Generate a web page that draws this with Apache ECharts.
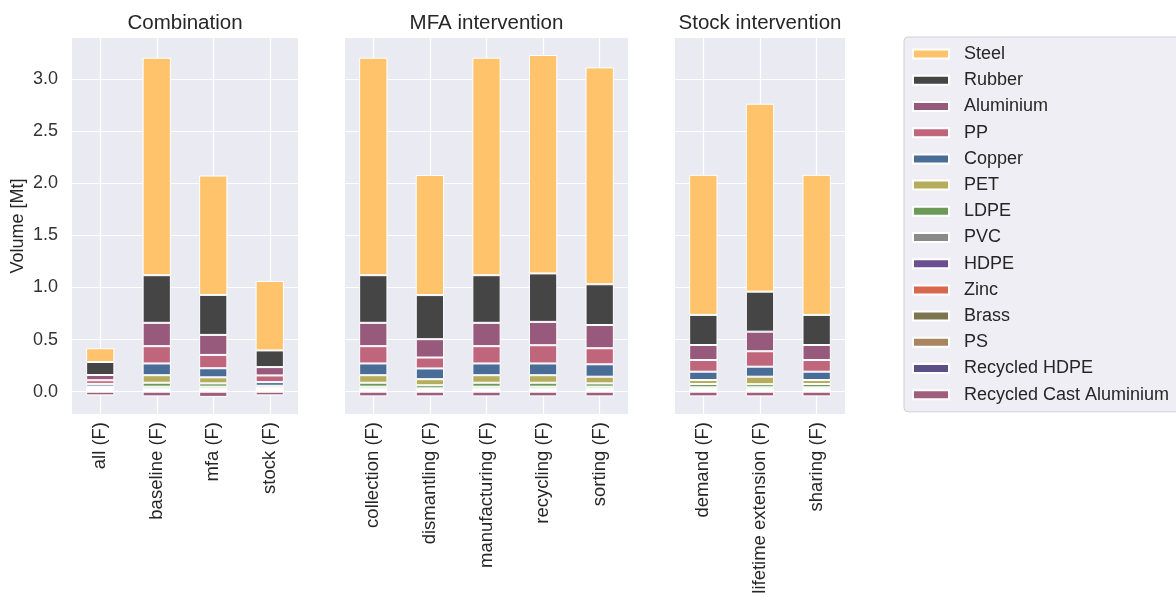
<!DOCTYPE html>
<html>
<head>
<meta charset="utf-8">
<script src="https://cdn.jsdelivr.net/npm/echarts@6/dist/echarts.min.js"></script>
<style>
  html, body { margin: 0; padding: 0; background: #ffffff; }
  #chart { width: 1176px; height: 598px; }
</style>
</head>
<body>
<div id="chart"></div>
<script>
// Scenario groups (one panel each)
const combinationCats = ['all (F)', 'baseline (F)', 'mfa (F)', 'stock (F)'];
const mfaCats = ['collection (F)', 'dismantling (F)', 'manufacturing (F)', 'recycling (F)', 'sorting (F)'];
const stockCats = ['demand (F)', 'lifetime extension (F)', 'sharing (F)'];

// Material volumes [Mt], in scenario order:
// all, baseline, mfa, stock | collection, dismantling, manufacturing, recycling, sorting | demand, lifetime extension, sharing
const steel      = [0.132, 2.087, 1.145, 0.666, 2.087, 1.152, 2.087, 2.096, 2.081, 1.344, 1.803, 1.344];
const rubber     = [0.125, 0.457, 0.384, 0.160, 0.457, 0.423, 0.457, 0.465, 0.391, 0.289, 0.384, 0.289];
const aluminium  = [0.050, 0.224, 0.192, 0.080, 0.224, 0.176, 0.224, 0.224, 0.223, 0.144, 0.188, 0.144];
const pp         = [0.035, 0.166, 0.128, 0.064, 0.166, 0.105, 0.166, 0.175, 0.154, 0.112, 0.148, 0.112];
const copper     = [0.025, 0.113, 0.087, 0.035, 0.113, 0.103, 0.113, 0.113, 0.119, 0.080, 0.096, 0.080];
const pet        = [0.015, 0.072, 0.058, 0.020, 0.072, 0.058, 0.072, 0.072, 0.064, 0.038, 0.072, 0.038];
const ldpe       = [0.010, 0.038, 0.032, 0.012, 0.038, 0.030, 0.038, 0.038, 0.032, 0.032, 0.030, 0.032];
const pvc        = [0.008, 0.018, 0.018, 0.008, 0.018, 0.012, 0.018, 0.018, 0.018, 0.015, 0.015, 0.015];
const hdpe       = [0.005, 0.010, 0.010, 0.005, 0.010, 0.007, 0.010, 0.010, 0.010, 0.009, 0.009, 0.009];
const zinc       = [0.004, 0.006, 0.006, 0.004, 0.006, 0.004, 0.006, 0.006, 0.006, 0.005, 0.005, 0.005];
const brass      = [0.003, 0.005, 0.005, 0.003, 0.005, 0.003, 0.005, 0.005, 0.005, 0.005, 0.005, 0.005];
const ps         = [0.003, 0.004, 0.004, 0.003, 0.004, 0.003, 0.004, 0.004, 0.004, 0.004, 0.004, 0.004];
const recHdpe    = [0.002, 0.005, 0.005, 0.002, 0.005, 0.003, 0.005, 0.005, 0.005, 0.004, 0.004, 0.004];
const recCastAl  = [-0.035, -0.045, -0.050, -0.035, -0.045, -0.045, -0.045, -0.045, -0.045, -0.045, -0.045, -0.045];

// Y tick values
const yTicks = [0, 0.5, 1.0, 1.5, 2.0, 2.5, 3.0];

// Materials, top of the stack first (legend order)
const materials = [
  { name: 'Steel', color: '#ffc36b', values: steel },
  { name: 'Rubber', color: '#454545', values: rubber },
  { name: 'Aluminium', color: '#985a7c', values: aluminium },
  { name: 'PP', color: '#c0667c', values: pp },
  { name: 'Copper', color: '#4a6d98', values: copper },
  { name: 'PET', color: '#b5ad5c', values: pet },
  { name: 'LDPE', color: '#6c9b58', values: ldpe },
  { name: 'PVC', color: '#8a8a8a', values: pvc },
  { name: 'HDPE', color: '#6b4f90', values: hdpe },
  { name: 'Zinc', color: '#d9674d', values: zinc },
  { name: 'Brass', color: '#7d7450', values: brass },
  { name: 'PS', color: '#a6855f', values: ps },
  { name: 'Recycled HDPE', color: '#5c4f87', values: recHdpe },
  { name: 'Recycled Cast Aluminium', color: '#a05e7e', values: recCastAl }
];

const panels = [
  { title: 'Combination', cats: combinationCats, left: 72, width: 226 },
  { title: 'MFA intervention', cats: mfaCats, left: 345, width: 283 },
  { title: 'Stock intervention', cats: stockCats, left: 675, width: 170 }
];

const FONT = '"Liberation Sans", Arial, sans-serif';
const TOP = 38, HEIGHT = 376;
const Y_MIN = -0.214, Y_MAX = 3.394;

const grids = [], xAxes = [], yAxes = [], titles = [], series = [];
let offset = 0;
panels.forEach((p, i) => {
  grids.push({ left: p.left, width: p.width, top: TOP, height: HEIGHT,
    show: true, backgroundColor: '#eaeaf2', borderWidth: 0, containLabel: false });
  // title box has 5px padding, so shift the anchor to keep the text centred on the panel
  titles.push({ text: p.title, left: p.left + p.width / 2 - 5, top: 8, textAlign: 'center',
    textStyle: { fontFamily: FONT, fontSize: 20.5, fontWeight: 'normal', color: '#262626' } });
  xAxes.push({
    type: 'category', gridIndex: i, data: p.cats,
    axisLine: { show: false }, axisTick: { show: false },
    axisLabel: { rotate: 90, margin: 8, interval: 0, fontFamily: FONT, fontSize: 18.5, color: '#262626' },
    splitLine: { show: true, interval: 0, alignWithLabel: true, lineStyle: { color: '#ffffff', width: 1.2 } }
  });
  yAxes.push({
    type: 'value', gridIndex: i, min: Y_MIN, max: Y_MAX,
    name: i === 0 ? 'Volume [Mt]' : '', nameLocation: 'middle', nameGap: 45,
    nameTextStyle: { fontFamily: FONT, fontSize: 18, color: '#262626' },
    axisLine: { show: false },
    axisTick: { show: false, customValues: yTicks },
    axisLabel: { show: i === 0, customValues: yTicks, margin: 14,
      formatter: v => v.toFixed(1), fontFamily: FONT, fontSize: 18, color: '#333333' },
    splitLine: { show: true, lineStyle: { color: '#ffffff', width: 1.2 } }
  });
  const n = p.cats.length;
  // bottom of the stack first
  for (let k = materials.length - 1; k >= 0; k--) {
    const m = materials[k];
    series.push({
      type: 'bar', name: m.name, xAxisIndex: i, yAxisIndex: i, stack: 'panel' + i,
      barWidth: '50%', data: m.values.slice(offset, offset + n),
      itemStyle: { color: m.color, borderColor: '#ffffff', borderWidth: 1 },
      emphasis: { disabled: true }
    });
  }
  offset += n;
});

const chart = echarts.init(document.getElementById('chart'), null, { renderer: 'canvas' });
chart.setOption({
  animation: false,
  backgroundColor: '#ffffff',
  title: titles,
  grid: grids,
  xAxis: xAxes,
  yAxis: yAxes,
  legend: {
    data: materials.map(m => m.name),
    orient: 'vertical', left: 904, top: 37,
    padding: [8, 20, 8, 8],
    itemWidth: 36, itemHeight: 9, itemGap: 8,
    icon: 'rect',
    backgroundColor: '#eeeef4', borderColor: '#d0d0d6', borderWidth: 1, borderRadius: 4,
    textStyle: { fontFamily: FONT, fontSize: 18, color: '#262626', lineHeight: 18.2, padding: [0, 0, 0, 10] },
    selectedMode: false
  },
  series: series
});
</script>
</body>
</html>
